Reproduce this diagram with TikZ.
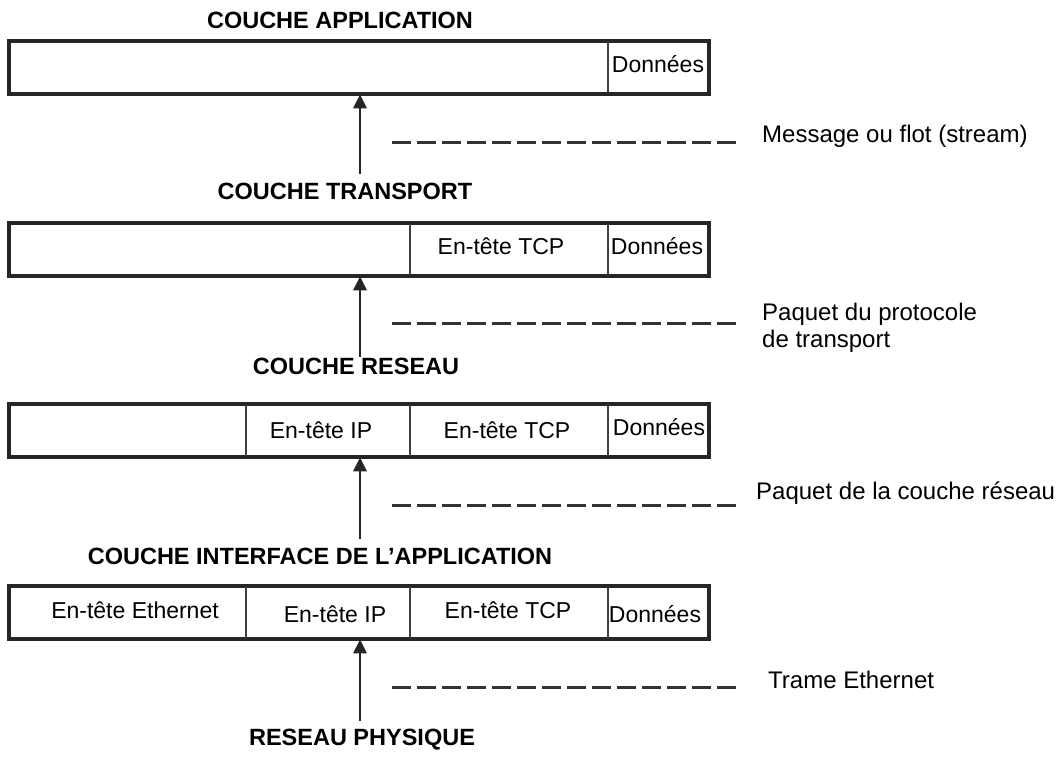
\documentclass[tikz,border=0pt]{standalone}
\usepackage{fontspec}
\setmainfont{Liberation Sans}
\usetikzlibrary{arrows.meta}
\begin{document}
\begin{tikzpicture}[x=1pt,y=-1pt,
  frame/.style={draw=black!85, line width=2.6pt, inner sep=0pt, fill=white},
  divider/.style={draw=black!75, line width=1.8pt},
  cell/.style={inner sep=0pt, font=\fontsize{23}{26}\selectfont},
  title/.style={inner sep=0pt, font=\fontsize{23.5}{27}\selectfont\bfseries},
  label/.style={inner sep=0pt, anchor=west, align=left, font=\fontsize{24}{27}\selectfont},
  uparrow/.style={draw=black!85, line width=2.8pt, -{Triangle[length=14pt,width=13pt]}},
  dashline/.style={draw=black!80, line width=3pt, dash pattern=on 19pt off 6pt}]
\useasboundingbox (0,0) rectangle (1060,756);

% titles
\node[title] (t1) at (340,20) {COUCHE APPLICATION};
\node[title] (t2) at (345,191) {COUCHE TRANSPORT};
\node[title] (t3) at (356,366) {COUCHE RESEAU};
\node[title] (t4) at (320,556) {COUCHE INTERFACE DE L’APPLICATION};
\node[title] (t5) at (362,740) {RESEAU PHYSIQUE};

% frames
\node[frame, minimum width=698pt, minimum height=51pt] (b1) at (359,67.5) {};
\node[frame, minimum width=698pt, minimum height=51pt] (b2) at (359,249.5) {};
\node[frame, minimum width=698pt, minimum height=51pt] (b3) at (359,430.5) {};
\node[frame, minimum width=698pt, minimum height=51pt] (b4) at (359,612.5) {};

% dividers
\draw[divider] (b1.north west -| 608,0) -- (b1.south west -| 608,0);
\draw[divider] (b2.north west -| 410,0) -- (b2.south west -| 410,0);
\draw[divider] (b2.north west -| 608,0) -- (b2.south west -| 608,0);
\foreach \b in {b3,b4}{
  \draw[divider] (\b.north west -| 246,0) -- (\b.south west -| 246,0);
  \draw[divider] (\b.north west -| 410,0) -- (\b.south west -| 410,0);
  \draw[divider] (\b.north west -| 608,0) -- (\b.south west -| 608,0);
}
\draw[frame, fill=none] (b1.north west) rectangle (b1.south east);
\draw[frame, fill=none] (b2.north west) rectangle (b2.south east);
\draw[frame, fill=none] (b3.north west) rectangle (b3.south east);
\draw[frame, fill=none] (b4.north west) rectangle (b4.south east);

% cell texts
\node[cell] (d1) at (658,64) {Données};
\node[cell] (tcp2) at (501,246) {En-tête TCP};
\node[cell] (d2) at (657,246) {Données};
\node[cell] (ip3) at (321,430) {En-tête IP};
\node[cell] (tcp3) at (507,430) {En-tête TCP};
\node[cell] (d3) at (659,427) {Données};
\node[cell] (eth4) at (135,610) {En-tête Ethernet};
\node[cell] (ip4) at (335,614) {En-tête IP};
\node[cell] (tcp4) at (508,610) {En-tête TCP};
\node[cell] (d4) at (655,614) {Données};

% arrows
\coordinate (a1) at (360,174);
\coordinate (a2) at (360,357);
\coordinate (a3) at (360,539);
\coordinate (a4) at (360,721);
\draw[uparrow] (a1) -- (a1 |- b1.south);
\draw[uparrow] (a2) -- (a2 |- b2.south);
\draw[uparrow] (a3) -- (a3 |- b3.south);
\draw[uparrow] (a4) -- (a4 |- b4.south);

% dashed lines and labels
\coordinate (s1) at (392,142); \coordinate (e1) at (740,142);
\coordinate (s2) at (392,323); \coordinate (e2) at (740,323);
\coordinate (s3) at (392,505); \coordinate (e3) at (740,505);
\coordinate (s4) at (392,687); \coordinate (e4) at (740,687);
\draw[dashline] (s1) -- (e1);
\draw[dashline] (s2) -- (e2);
\draw[dashline] (s3) -- (e3);
\draw[dashline] (s4) -- (e4);
\node[label] (l1) at (762,136) {Message ou flot (stream)};
\node[label] (l2) at (762,328) {Paquet du protocole\\de transport};
\node[label] (l3) at (756,493) {Paquet de la couche réseau};
\node[label] (l4) at (768,680) {Trame Ethernet};
\end{tikzpicture}
\end{document}
